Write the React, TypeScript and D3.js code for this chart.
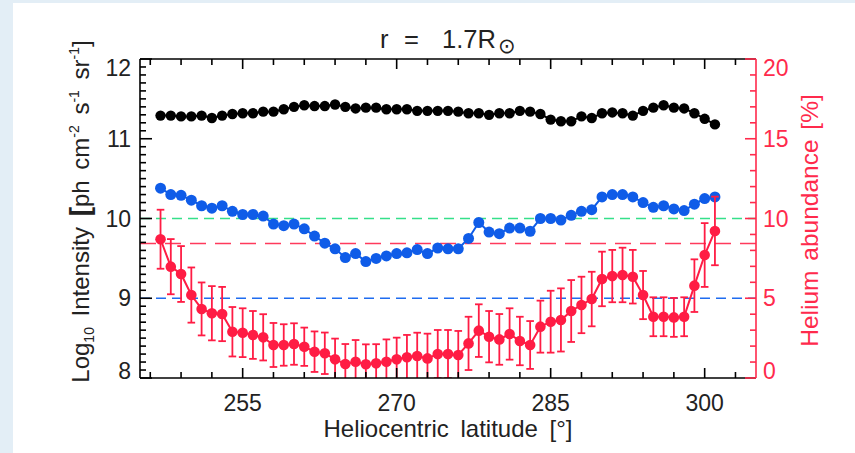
import React from 'react';
import * as d3 from 'd3';

// Heliocentric latitude of each sample [deg]
const LATITUDE = [
  247, 248, 249, 250, 251, 252, 253, 254, 255, 256, 257, 258, 259, 260, 261, 262, 263, 264,
  265, 266, 267, 268, 269, 270, 271, 272, 273, 274, 275, 276, 277, 278, 279, 280, 281, 282,
  283, 284, 285, 286, 287, 288, 289, 290, 291, 292, 293, 294, 295, 296, 297, 298, 299, 300, 301,
];

// log10 intensity, H I channel (black)
const INTENSITY_H = [
  11.29, 11.29, 11.28, 11.28, 11.29, 11.26, 11.29, 11.31, 11.32, 11.32, 11.34, 11.34, 11.37, 11.40,
  11.42, 11.41, 11.41, 11.43, 11.40, 11.38, 11.39, 11.39, 11.37, 11.37, 11.37, 11.35, 11.35, 11.35,
  11.35, 11.34, 11.32, 11.32, 11.30, 11.32, 11.32, 11.35, 11.34, 11.31, 11.24, 11.22, 11.22, 11.28,
  11.26, 11.32, 11.33, 11.32, 11.29, 11.35, 11.39, 11.42, 11.39, 11.38, 11.32, 11.25, 11.18,
];

// log10 intensity, He II channel (blue)
const INTENSITY_HE = [
  10.38, 10.30, 10.29, 10.23, 10.16, 10.13, 10.16, 10.09, 10.05, 10.05, 10.03, 9.93, 9.91, 9.93,
  9.87, 9.78, 9.69, 9.62, 9.51, 9.56, 9.46, 9.50, 9.53, 9.56, 9.57, 9.61, 9.56, 9.63, 9.62, 9.62,
  9.75, 9.95, 9.83, 9.81, 9.88, 9.88, 9.84, 10.0, 10.0, 9.98, 10.04, 10.09, 10.11, 10.27, 10.30,
  10.30, 10.27, 10.20, 10.14, 10.16, 10.12, 10.10, 10.18, 10.25, 10.27,
];

// Helium abundance [%] and its 1-sigma uncertainty
const HELIUM = [
  8.70, 6.98, 6.52, 5.20, 4.33, 4.06, 4.01, 2.90, 2.84, 2.70, 2.55, 2.07, 2.07, 2.13, 1.96, 1.65,
  1.55, 1.17, 0.88, 1.02, 0.86, 0.92, 1.02, 1.17, 1.30, 1.38, 1.23, 1.50, 1.50, 1.44, 2.17, 2.97,
  2.59, 2.42, 2.76, 2.32, 2.07, 3.22, 3.53, 3.64, 4.20, 4.58, 4.95, 6.21, 6.39, 6.46, 6.35, 5.20,
  3.84, 3.84, 3.80, 3.84, 5.79, 7.71, 9.22,
];
const HELIUM_ERR = [
  1.85, 1.73, 1.75, 1.73, 1.66, 1.70, 1.70, 1.55, 1.53, 1.50, 1.45, 1.38, 1.30, 1.30, 1.20, 1.27,
  1.30, 1.30, 1.25, 1.36, 1.25, 1.20, 1.40, 1.36, 1.40, 1.46, 1.55, 1.51, 1.51, 1.51, 1.67, 1.65,
  1.61, 1.59, 1.61, 1.52, 1.50, 1.63, 1.94, 1.98, 1.94, 1.77, 1.71, 1.71, 1.64, 1.71, 1.68, 1.51,
  1.22, 1.22, 1.22, 1.22, 1.65, 2.00, 2.15,
];

// Axis ranges and labels
const X_DOMAIN = [245, 305];
const X_LABELS = [255, 270, 285, 300];
const X_MINOR_STEP = 3;
const Y_DOMAIN = [8, 12];
const Y_LABELS = [8, 9, 10, 11, 12];
const Y_MINOR_STEP = 0.1;
const HE_DOMAIN = [0, 20];
const HE_LABELS = [0, 5, 10, 15, 20];
const HE_MINOR_STEP = 1;

// Reference levels
const REF_INTENSITY_GREEN = 10;
const REF_INTENSITY_BLUE = 9;
const REF_HELIUM = 8.43;

const W = 855;
const H = 453;
const M = { left: 140, right: 756, top: 59, bottom: 378 };

const RED = '#ff1c44';
const RED_AXIS = '#ff2a4c';
const BLUE = '#0f5ce8';
const FONT = '"Liberation Sans", Arial, sans-serif';

export default function App() {
  const x = d3.scaleLinear().domain(X_DOMAIN).range([M.left, M.right]);
  const yL = d3.scaleLinear().domain(Y_DOMAIN).range([M.bottom, M.top]);
  const yR = d3.scaleLinear().domain(HE_DOMAIN).range([M.bottom, M.top]);

  const xMinor = d3.range(246, X_DOMAIN[1] + 0.001, X_MINOR_STEP);
  const yMinor = d3.range(Y_DOMAIN[0], Y_DOMAIN[1] + 0.0001, Y_MINOR_STEP);
  const heMinor = d3.range(HE_DOMAIN[0], HE_DOMAIN[1] + 0.001, HE_MINOR_STEP);

  const lineH = d3.line<number>().x((_, i) => x(LATITUDE[i])).y((v) => yL(v));
  const lineHe = d3.line<number>().x((_, i) => x(LATITUDE[i])).y((v) => yR(v));

  const clampLabel = (y: number) => Math.max(M.top + 9, Math.min(M.bottom - 7, y));

  return (
    <svg
      width={W}
      height={H}
      style={{ position: 'absolute', left: 0, top: 0, display: 'block' }}
      fontFamily={FONT}
    >
      <defs>
        <clipPath id="plot-area">
          <rect x={M.left} y={M.top} width={M.right - M.left} height={M.bottom - M.top} />
        </clipPath>
      </defs>
      <rect x={0} y={0} width={W} height={H} fill="#e3eef6" />
      <rect x={13} y={3} width={W - 13} height={H - 3} fill="#ffffff" />

      {/* title */}
      <text y={48.3} fontSize={25.5} fill="#222">
        <tspan x={380}>r</tspan>
        <tspan x={404}>=</tspan>
        <tspan x={442}>1.7R</tspan>
        <tspan x={498} dy={5} fontSize={21} fontFamily='"DejaVu Sans", sans-serif'>⊙</tspan>
      </text>

      {/* reference levels */}
      <line x1={M.left} x2={M.right} y1={yL(REF_INTENSITY_GREEN)} y2={yL(REF_INTENSITY_GREEN)}
        stroke="#35e08a" strokeWidth={1.6} strokeDasharray="10 6" />
      <line x1={M.left} x2={M.right} y1={yR(REF_HELIUM)} y2={yR(REF_HELIUM)}
        stroke="#ff3a5c" strokeWidth={1.6} strokeDasharray="16 9" />
      <line x1={M.left} x2={M.right} y1={yL(REF_INTENSITY_BLUE)} y2={yL(REF_INTENSITY_BLUE)}
        stroke="#1f6cf0" strokeWidth={1.6} strokeDasharray="10 6" />

      {/* H I intensity */}
      <path d={lineH(INTENSITY_H) || ''} fill="none" stroke="#000" strokeWidth={2} />
      {INTENSITY_H.map((v, i) => (
        <circle key={'h' + i} cx={x(LATITUDE[i])} cy={yL(v)} r={5.2} fill="#000" />
      ))}

      {/* He II intensity */}
      <path d={lineH(INTENSITY_HE) || ''} fill="none" stroke={BLUE} strokeWidth={2} />
      {INTENSITY_HE.map((v, i) => (
        <circle key={'b' + i} cx={x(LATITUDE[i])} cy={yL(v)} r={5.5} fill={BLUE} />
      ))}

      {/* helium abundance with error bars */}
      <g clipPath="url(#plot-area)">
        {HELIUM.map((v, i) => {
          const cx = x(LATITUDE[i]);
          const top = yR(v + HELIUM_ERR[i]);
          const bot = yR(v - HELIUM_ERR[i]);
          return (
            <g key={'e' + i} stroke={RED} strokeWidth={1.8}>
              <line x1={cx} x2={cx} y1={top} y2={bot} />
              <line x1={cx - 3.8} x2={cx + 3.8} y1={top} y2={top} />
              <line x1={cx - 3.8} x2={cx + 3.8} y1={bot} y2={bot} />
            </g>
          );
        })}
      </g>
      <path d={lineHe(HELIUM) || ''} fill="none" stroke={RED} strokeWidth={2} />
      {HELIUM.map((v, i) => (
        <circle key={'r' + i} cx={x(LATITUDE[i])} cy={yR(v)} r={5.3} fill={RED} />
      ))}

      {/* frame: bottom, top, left in black */}
      <g stroke="#000" strokeWidth={1.6} fill="none">
        <line x1={M.left} x2={M.right} y1={M.bottom} y2={M.bottom} />
        <line x1={M.left} x2={M.right} y1={M.top} y2={M.top} />
        <line x1={M.left} x2={M.left} y1={M.top} y2={M.bottom} />
        {xMinor.map((t) => {
          const major = X_LABELS.includes(t);
          const len = major ? 10 : 6;
          return (
            <g key={'xt' + t}>
              <line x1={x(t)} x2={x(t)} y1={M.bottom} y2={M.bottom - len} />
              <line x1={x(t)} x2={x(t)} y1={M.top} y2={M.top + len} />
            </g>
          );
        })}
        {yMinor.map((t, i) => {
          const major = i % 10 === 0;
          const len = major ? 12 : 6;
          return <line key={'yt' + i} x1={M.left} x2={M.left + len} y1={yL(t)} y2={yL(t)} />;
        })}
      </g>

      {/* right axis for helium abundance */}
      <g stroke={RED_AXIS} strokeWidth={1.6} fill="none">
        <line x1={M.right} x2={M.right} y1={M.top} y2={M.bottom} />
        {heMinor.map((t, i) => {
          const major = i % 5 === 0;
          const len = major ? 11 : 6;
          return <line key={'rt' + i} x1={M.right} x2={M.right - len} y1={yR(t)} y2={yR(t)} />;
        })}
      </g>

      {/* tick labels */}
      <g fontSize={23} fill="#222">
        {X_LABELS.map((t) => (
          <text key={'xl' + t} x={x(t)} y={411.3} textAnchor="middle">{t}</text>
        ))}
        {Y_LABELS.map((t) => (
          <text key={'yl' + t} x={131} y={clampLabel(yL(t)) + 8.2} textAnchor="end">{t}</text>
        ))}
      </g>
      <g fontSize={23} fill={RED_AXIS}>
        {HE_LABELS.map((t) => (
          <text key={'rl' + t} x={763} y={clampLabel(yR(t)) + 8.2} textAnchor="start">{t}</text>
        ))}
      </g>

      {/* axis titles */}
      <text x={448} y={437.3} fontSize={24} textAnchor="middle" fill="#222" wordSpacing={5}>
        Heliocentric latitude [°]
      </text>
      <text
        transform={`translate(89,${211.5}) rotate(-90)`}
        fontSize={24}
        textAnchor="middle"
        fill="#222"
        wordSpacing={4}
      >
        Log<tspan fontSize={14} dy={5}>10</tspan>
        <tspan dy={-5}> Intensity </tspan>
        <tspan fontWeight="bold" fontSize={28}>[</tspan>
        <tspan>ph cm</tspan>
        <tspan fontSize={14} dy={-10}>-2</tspan>
        <tspan dy={10}> s</tspan>
        <tspan fontSize={14} dy={-10}>-1</tspan>
        <tspan dy={10}> sr</tspan>
        <tspan fontSize={14} dy={-10}>-1</tspan>
        <tspan dy={10}>]</tspan>
      </text>
      <text
        transform={`translate(818,${220.5}) rotate(-90)`}
        fontSize={24.5}
        textAnchor="middle"
        fill={RED_AXIS}
        wordSpacing={3}
      >
        Helium abundance [%]
      </text>
    </svg>
  );
}
